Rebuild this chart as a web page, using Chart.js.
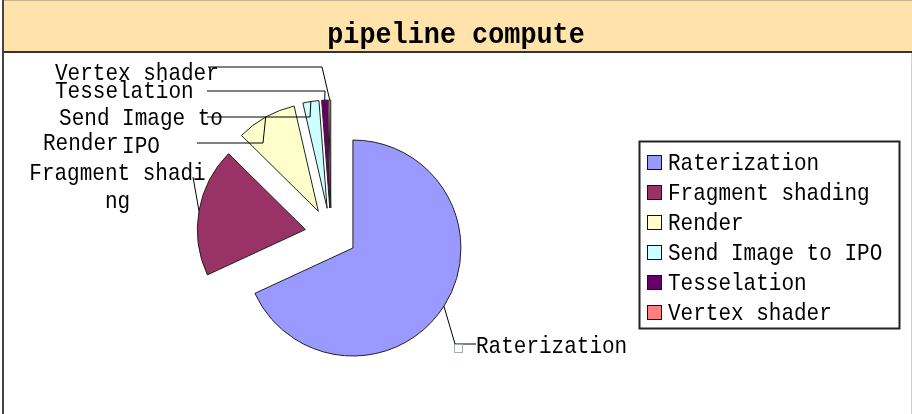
<!DOCTYPE html>
<html>
<head>
<meta charset="utf-8">
<script src="https://cdn.jsdelivr.net/npm/chart.js@4.4.1/dist/chart.umd.min.js"></script>
<style>
  html, body { margin: 0; padding: 0; background: #fff; }
  #c { display: block; }
</style>
</head>
<body>
<canvas id="c" width="912" height="414"></canvas>
<script>
// ---- data ----
const titleText = 'pipeline compute';
const categories = ['Raterization', 'Fragment shading', 'Render', 'Send Image to IPO', 'Tesselation', 'Vertex shader'];
const values = [68.1, 19.3, 9.0, 2.4, 0.9, 0.3];
const labelLines = [['Raterization'], ['Fragment shadi', 'ng'], ['Render'], ['Send Image to', 'IPO'], ['Tesselation'], ['Vertex shader']];
const sliceColors = ['#9999FF', '#993366', '#FFFFCC', '#CCFFFF', '#660066', '#FF8080'];

// ---- layout / style ----
const EXPLODE = 26;
const FONT_FAMILY = '"Liberation Mono", "DejaVu Sans Mono", monospace';
const TEXT_SIZE = 24, TEXT_SX = 0.875;
const TITLE_SIZE = 30, TITLE_SX = 0.894;
const labelLayout = [
  { x: 476, align: 'left', y: 353, lineH: 27.5, path: [[476, 344], [455, 344]], handle: [454.5, 344.5, 8, 8] },
  { x: 117.5, align: 'center', y: 180, lineH: 27.5, path: [[193, 177]] },
  { x: 43, align: 'left', y: 150, lineH: 27.5, path: [[197, 143], [263, 143]] },
  { x: 141, align: 'center', y: 125, lineH: 27.5, path: [[207, 117], [310, 117]] },
  { x: 55, align: 'left', y: 98, lineH: 27.5, path: [[207, 91], [325, 91]] },
  { x: 55, align: 'left', y: 80, lineH: 27.5, path: [[208, 67], [322, 67]] }
];
const legendBox = { x: 639.5, y: 141.5, w: 260, h: 187, swX: 647.5, sw: 14, textX: 668, firstBase: 170, pitch: 30 };

function drawText(ctx, text, x, y, size, sx, align, bold) {
  ctx.save();
  ctx.font = (bold ? 'bold ' : '') + size + 'px ' + FONT_FAMILY;
  ctx.textBaseline = 'alphabetic';
  ctx.textAlign = 'left';
  const w = ctx.measureText(text).width * sx;
  let left = x;
  if (align === 'center') left = x - w / 2;
  else if (align === 'right') left = x - w;
  ctx.translate(left, y);
  ctx.scale(sx, 1);
  ctx.fillStyle = '#000';
  ctx.fillText(text, 0, 0);
  ctx.restore();
}

const framePlugin = {
  id: 'frame',
  beforeDraw(chart) {
    const ctx = chart.ctx;
    ctx.save();
    ctx.fillStyle = '#fff';
    ctx.fillRect(0, 0, 912, 414);
    ctx.fillStyle = '#FFE3AA';
    ctx.fillRect(4, 0, 908, 52);
    ctx.strokeStyle = '#c9b590';
    ctx.lineWidth = 1;
    ctx.beginPath(); ctx.moveTo(4, 0.5); ctx.lineTo(912, 0.5); ctx.stroke();
    ctx.fillStyle = '#333';
    ctx.fillRect(4, 51, 908, 2);
    ctx.fillStyle = '#444';
    ctx.fillRect(2, 0, 2, 414);
    ctx.strokeStyle = '#cfcfcf';
    ctx.beginPath(); ctx.moveTo(911.5, 53); ctx.lineTo(911.5, 414); ctx.stroke();
    ctx.restore();
    drawText(ctx, titleText, 456, 43, TITLE_SIZE, TITLE_SX, 'center', true);
  }
};

const explodePlugin = {
  id: 'explode',
  beforeDatasetDraw(chart, args) {
    const ctx = chart.ctx;
    args.meta.data.forEach(arc => {
      const mid = (arc.startAngle + arc.endAngle) / 2;
      ctx.save();
      ctx.translate(Math.cos(mid) * EXPLODE, Math.sin(mid) * EXPLODE);
      arc.draw(ctx);
      ctx.restore();
    });
    return false;
  }
};

const annotPlugin = {
  id: 'annot',
  afterDraw(chart) {
    const ctx = chart.ctx;
    const arcs = chart.getDatasetMeta(0).data;
    arcs.forEach((arc, i) => {
      const L = labelLayout[i];
      const mid = (arc.startAngle + arc.endAngle) / 2;
      const r = arc.outerRadius;
      const ax = arc.x + Math.cos(mid) * (EXPLODE + r);
      const ay = arc.y + Math.sin(mid) * (EXPLODE + r);
      ctx.save();
      ctx.strokeStyle = '#000';
      ctx.lineWidth = 1;
      ctx.beginPath();
      ctx.moveTo(L.path[0][0], L.path[0][1]);
      for (let k = 1; k < L.path.length; k++) ctx.lineTo(L.path[k][0], L.path[k][1]);
      ctx.lineTo(ax, ay);
      ctx.stroke();
      if (L.handle) {
        ctx.fillStyle = '#fff';
        ctx.fillRect(L.handle[0], L.handle[1], L.handle[2], L.handle[3]);
        ctx.strokeStyle = '#a4abb8';
        ctx.strokeRect(L.handle[0], L.handle[1], L.handle[2], L.handle[3]);
      }
      ctx.restore();
      labelLines[i].forEach((t, j) => {
        drawText(ctx, t, L.x, L.y + j * L.lineH, TEXT_SIZE, TEXT_SX, L.align, false);
      });
    });
    ctx.save();
    ctx.fillStyle = '#fff';
    ctx.fillRect(legendBox.x, legendBox.y, legendBox.w, legendBox.h);
    ctx.strokeStyle = '#222';
    ctx.lineWidth = 2;
    ctx.strokeRect(legendBox.x, legendBox.y, legendBox.w, legendBox.h);
    ctx.lineWidth = 1;
    categories.forEach((name, i) => {
      const base = legendBox.firstBase + i * legendBox.pitch;
      ctx.fillStyle = sliceColors[i];
      ctx.fillRect(legendBox.swX, base - 14.5, legendBox.sw, legendBox.sw);
      ctx.strokeStyle = '#111';
      ctx.strokeRect(legendBox.swX, base - 14.5, legendBox.sw, legendBox.sw);
    });
    ctx.restore();
    categories.forEach((name, i) => {
      const base = legendBox.firstBase + i * legendBox.pitch;
      drawText(ctx, name, legendBox.textX, base, TEXT_SIZE, TEXT_SX, 'left', false);
    });
  }
};

new Chart(document.getElementById('c'), {
  type: 'pie',
  data: {
    labels: categories,
    datasets: [{
      data: values,
      backgroundColor: sliceColors,
      borderColor: '#222',
      borderWidth: 1,
      radius: 108
    }]
  },
  options: {
    responsive: false,
    animation: false,
    events: [],
    layout: { padding: { left: 60, right: 310, top: 62, bottom: 8 } },
    plugins: {
      legend: { display: false },
      title: { display: false },
      tooltip: { enabled: false }
    }
  },
  plugins: [framePlugin, explodePlugin, annotPlugin]
});
</script>
</body>
</html>
